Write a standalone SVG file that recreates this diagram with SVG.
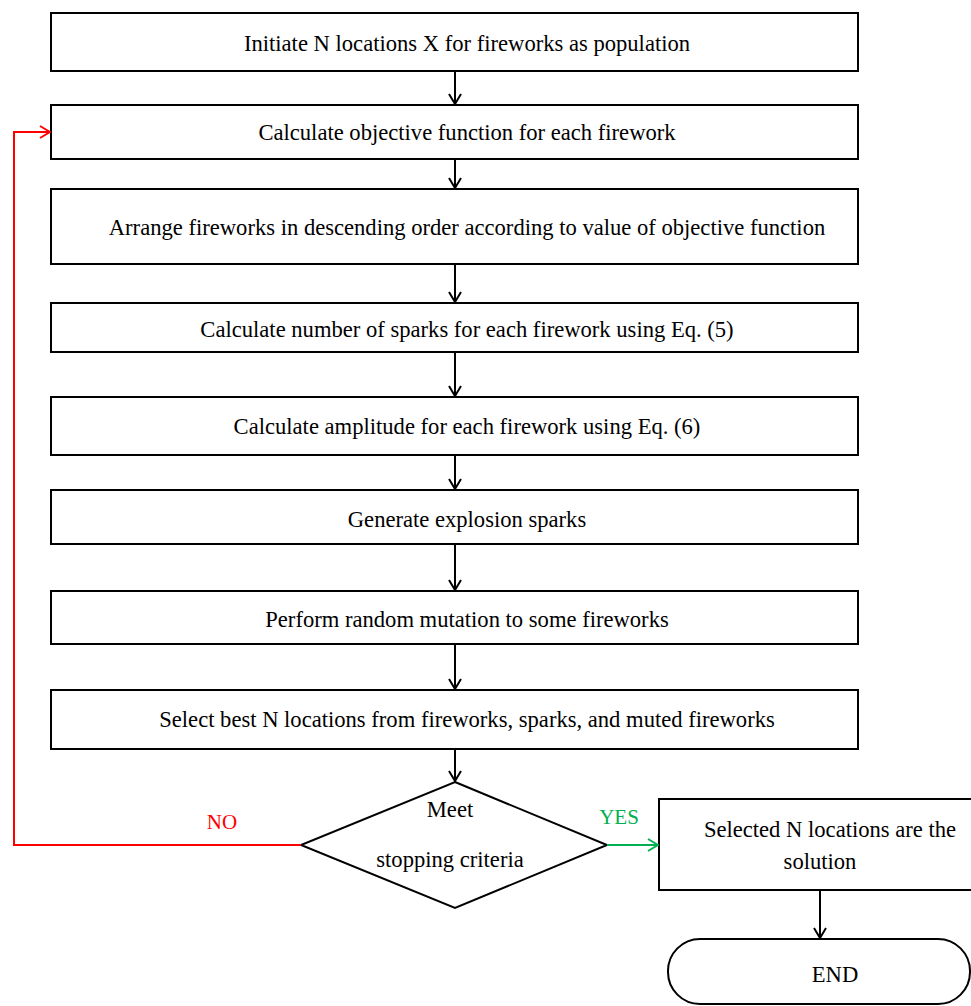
<svg xmlns="http://www.w3.org/2000/svg" width="971" height="1006" viewBox="0 0 971 1006">
<style>
.box{fill:#fff;stroke:#000;stroke-width:2}
.t{font-family:"Liberation Serif","DejaVu Serif",serif;font-size:22.6px;fill:#000;text-anchor:middle}
.c{fill:none;stroke:#000;stroke-width:2}
</style>
<defs>
<marker id="ah" markerWidth="12" markerHeight="14" refX="11" refY="7" orient="auto" markerUnits="userSpaceOnUse"><path d="M1,1 L11,7 L1,13" fill="none" stroke="#000" stroke-width="2"/></marker>
<marker id="ahr" markerWidth="12" markerHeight="14" refX="11" refY="7" orient="auto" markerUnits="userSpaceOnUse"><path d="M1,1 L11,7 L1,13" fill="none" stroke="#f00" stroke-width="2"/></marker>
<marker id="ahg" markerWidth="12" markerHeight="14" refX="11" refY="7" orient="auto" markerUnits="userSpaceOnUse"><path d="M1,1 L11,7 L1,13" fill="none" stroke="#00b050" stroke-width="2"/></marker>
</defs>
<rect width="971" height="1006" fill="#fff"/>
<g id="n1"><rect class="box" x="51" y="13" width="807" height="58"/><text class="t" x="467" y="51">Initiate N locations X for fireworks as population</text></g>
<g id="n2"><rect class="box" x="51" y="105" width="807" height="54"/><text class="t" x="467" y="140">Calculate objective function for each firework</text></g>
<g id="n3"><rect class="box" x="51" y="189" width="807" height="75"/><text class="t" x="467" y="235">Arrange fireworks in descending order according to value of objective function</text></g>
<g id="n4"><rect class="box" x="51" y="303" width="807" height="49"/><text class="t" x="467" y="337">Calculate number of sparks for each firework using Eq. (5)</text></g>
<g id="n5"><rect class="box" x="51" y="397" width="807" height="58"/><text class="t" x="467" y="434">Calculate amplitude for each firework using Eq. (6)</text></g>
<g id="n6"><rect class="box" x="51" y="490" width="807" height="54"/><text class="t" x="467" y="527">Generate explosion sparks</text></g>
<g id="n7"><rect class="box" x="51" y="591" width="807" height="53"/><text class="t" x="467" y="627">Perform random mutation to some fireworks</text></g>
<g id="n8"><rect class="box" x="51" y="690" width="807" height="59"/><text class="t" x="467" y="727">Select best N locations from fireworks, sparks, and muted fireworks</text></g>
<g id="n9"><polygon class="box" points="455,782 607,845 455,908 301,845"/><text class="t" x="450" y="817">Meet</text><text class="t" x="450" y="867">stopping criteria</text></g>
<g id="n10"><rect class="box" x="659" y="799" width="320" height="91"/><text class="t" x="830" y="837">Selected N locations are the</text><text class="t" x="820" y="869">solution</text></g>
<g id="n11"><rect class="box" x="668" y="939" width="302" height="65" rx="32" ry="32"/><text class="t" x="835" y="982">END</text></g>
<g id="connectors">
<line class="c" x1="455" y1="71" x2="455" y2="104" marker-end="url(#ah)"/>
<line class="c" x1="455" y1="159" x2="455" y2="188" marker-end="url(#ah)"/>
<line class="c" x1="455" y1="264" x2="455" y2="302" marker-end="url(#ah)"/>
<line class="c" x1="455" y1="352" x2="455" y2="396" marker-end="url(#ah)"/>
<line class="c" x1="455" y1="455" x2="455" y2="489" marker-end="url(#ah)"/>
<line class="c" x1="455" y1="544" x2="455" y2="590" marker-end="url(#ah)"/>
<line class="c" x1="455" y1="644" x2="455" y2="689" marker-end="url(#ah)"/>
<line class="c" x1="455" y1="749" x2="455" y2="781" marker-end="url(#ah)"/>
<polyline fill="none" stroke="#f00" stroke-width="2" points="301,845 14,845 14,132 50,132" marker-end="url(#ahr)"/>
<line stroke="#00b050" stroke-width="2" x1="607" y1="845" x2="658" y2="845" marker-end="url(#ahg)"/>
<line class="c" x1="820" y1="890" x2="820" y2="938" marker-end="url(#ah)"/>
<text x="222" y="829" font-family="Liberation Serif,serif" font-size="21" fill="#f00" text-anchor="middle">NO</text>
<text x="619" y="824" font-family="Liberation Serif,serif" font-size="21" fill="#00b050" text-anchor="middle">YES</text>
</g>
</svg>
